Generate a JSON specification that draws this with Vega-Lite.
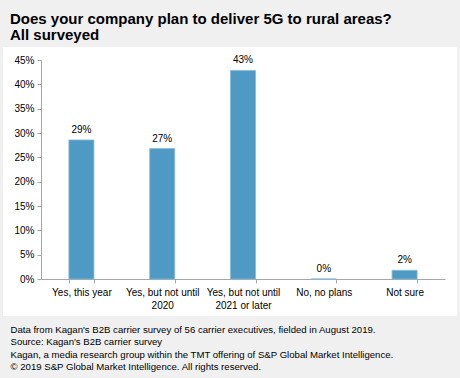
{
  "$schema": "https://vega.github.io/schema/vega-lite/v6.json",
  "width": 454,
  "height": 269,
  "autosize": "none",
  "padding": {"left": 3, "top": 47, "right": 3, "bottom": 62},
  "background": "#f0f0f0",
  "config": {"view": {"fill": "white", "stroke": null}, "font": "Liberation Sans"},
  "title": {
    "text": ["Does your company plan to deliver 5G to rural areas?", "All surveyed"],
    "anchor": "start",
    "frame": "group",
    "fontSize": 15,
    "fontWeight": "bold",
    "color": "#000000",
    "lineHeight": 16,
    "baseline": "bottom",
    "dx": 7,
    "offset": -11
  },
  "data": {
    "values": [
      {"c": "Yes, this year", "v": 0.2857},
      {"c": "Yes, but not until 2020", "v": 0.2679},
      {"c": "Yes, but not until 2021 or later", "v": 0.4286},
      {"c": "No, no plans", "v": 0},
      {"c": "Not sure", "v": 0.0179}
    ]
  },
  "encoding": {
    "x": {
      "field": "c",
      "type": "nominal",
      "sort": null,
      "scale": {"range": [38, 442], "paddingInner": 0.69, "paddingOuter": 0.345},
      "axis": {
        "orient": "bottom",
        "offset": -37,
        "tickBand": "extent",
        "labelAngle": 0,
        "labelFontSize": 10,
        "labelColor": "#000000",
        "labelPadding": 4,
        "labelLineHeight": 13,
        "labelExpr": "split(replace(datum.label, 'until ', 'until|'), '|')",
        "domainColor": "#a6a6a6",
        "tickColor": "#a6a6a6",
        "tickSize": 4,
        "title": [
          "Data from Kagan's B2B carrier survey of 56 carrier executives, fielded in August 2019.",
          "Source: Kagan's B2B carrier survey",
          "Kagan, a media research group within the TMT offering of S&P Global Market Intelligence.",
          "© 2019 S&P Global Market Intelligence. All rights reserved."
        ],
        "titleFontSize": 9.6,
        "titleFontWeight": "normal",
        "titleColor": "#000000",
        "titleAlign": "left",
        "titleBaseline": "top",
        "titleAngle": 0,
        "titleX": 7,
        "titleY": 45,
        "titleLineHeight": 12.5
      }
    },
    "y": {
      "field": "v",
      "type": "quantitative",
      "scale": {"domain": [0, 0.45], "range": [232, 13], "nice": false},
      "axis": {
        "offset": -38,
        "format": ".0%",
        "values": [0, 0.05, 0.1, 0.15, 0.2, 0.25, 0.3, 0.35, 0.4, 0.45],
        "grid": false,
        "domainColor": "#a6a6a6",
        "tickColor": "#a6a6a6",
        "tickSize": 4,
        "labelFontSize": 10,
        "labelColor": "#000000",
        "labelPadding": 3,
        "title": null
      }
    }
  },
  "layer": [
    {"mark": {"type": "bar", "color": "#4e9ac4", "stroke": "#86badb", "strokeWidth": 0.8}},
    {
      "mark": {"type": "text", "baseline": "alphabetic", "dy": -7, "fontSize": 10, "color": "#000000"},
      "encoding": {"text": {"field": "v", "type": "quantitative", "format": ".0%"}}
    }
  ]
}
